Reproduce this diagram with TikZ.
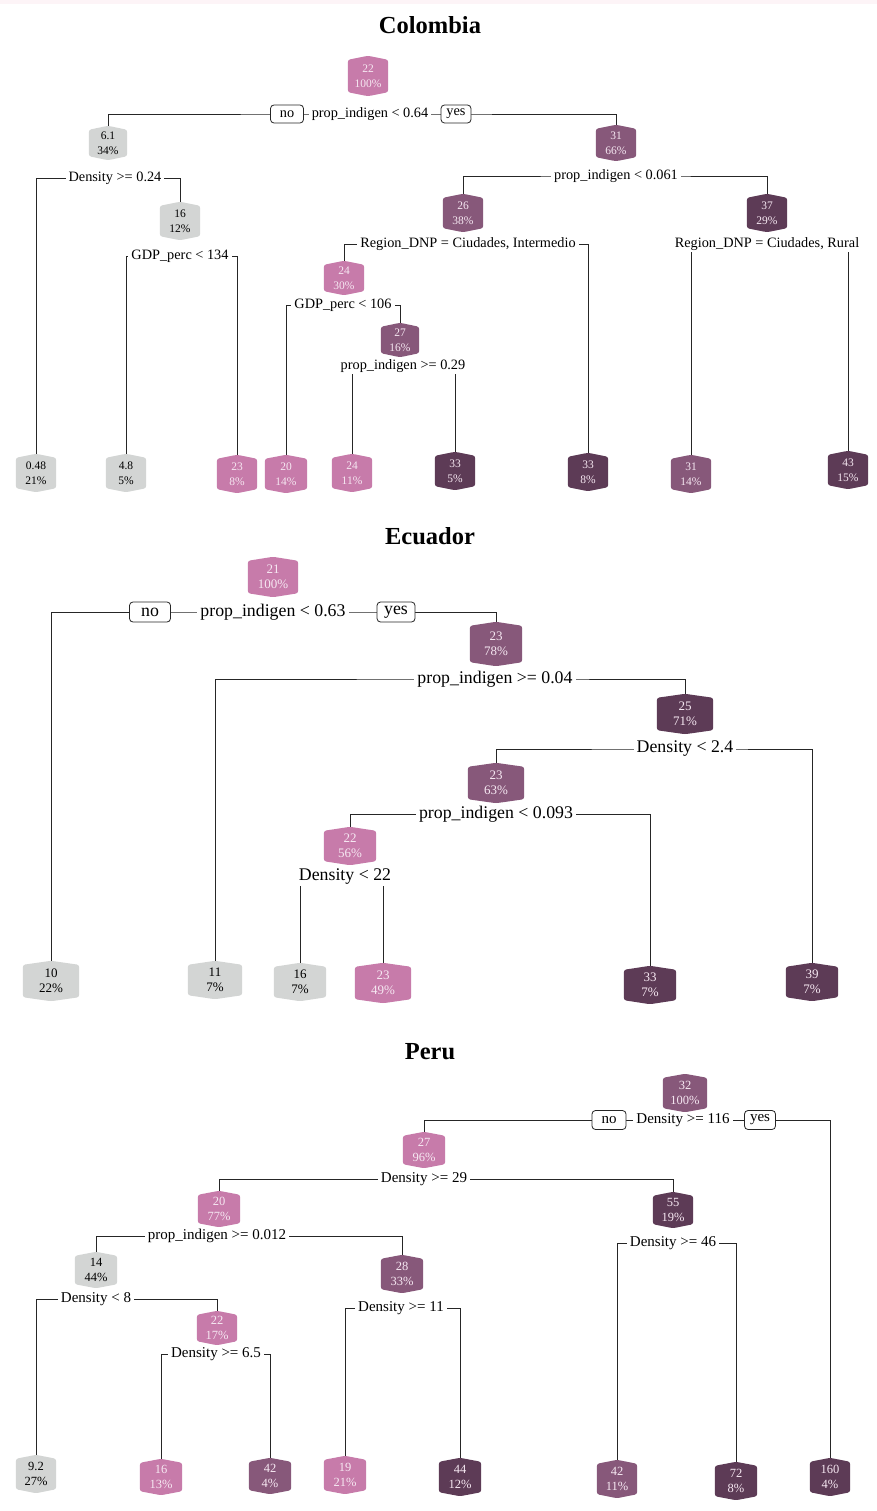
\documentclass[tikz,border=0pt]{standalone}
\usepackage{fontspec}
\setmainfont{Liberation Serif}
\usetikzlibrary{calc}
\pgfdeclarelayer{background}
\pgfsetlayers{background,main}
\definecolor{cGr}{RGB}{211,213,212}
\definecolor{cPk}{RGB}{199,123,170}
\definecolor{cMd}{RGB}{135,88,122}
\definecolor{cDk}{RGB}{93,59,86}
\definecolor{cLt}{RGB}{246,232,242}
\definecolor{cBand}{RGB}{253,244,247}
\newcommand\tn[7]{%
  \node[tn, text=#6, minimum width=#3pt, minimum height=#4pt] (#1) at (#2) {#7};
  \begin{pgfonlayer}{background}
    \fill[#5, rounded corners=2.5pt] ($(#1.north west)+(0,-4pt)$) -- (#1.north) -- ($(#1.north east)+(0,-4pt)$) -- ($(#1.south east)+(0,4pt)$) -- (#1.south) -- ($(#1.south west)+(0,4pt)$) -- cycle;
  \end{pgfonlayer}}
\newcommand\conn[3]{%
  \begin{pgfonlayer}{background}
    \draw[connline] (#1.north) |- (#2) -| (#3.north);
  \end{pgfonlayer}}
\tikzset{
  tn/.style={inner sep=0pt, align=center, font=\fontsize{11.5}{15}\selectfont},
  lab/.style={fill=white, inner xsep=3pt, inner ysep=1pt, font=\fontsize{14.3}{16}\selectfont},
  nybox/.style={draw=black!85, fill=white, rounded corners=3.5pt, inner xsep=2pt, inner ysep=0pt,
    minimum height=18pt, line width=0.8pt, font=\fontsize{14.3}{16}\selectfont},
  nobox/.style={nybox, minimum width=33pt},
  yesbox/.style={nybox, minimum width=30pt},
  connline/.style={line width=0.75pt, draw=black!85},
  ttl/.style={font=\bfseries\fontsize{24.5}{28}\selectfont}
}
\begin{document}
\begin{tikzpicture}[x=1pt,y=-1pt]
\useasboundingbox (0,0) rectangle (877,1511);
\begin{pgfonlayer}{background}
\fill[white] (0,0) rectangle (877,1511);
\fill[cBand] (0,0) rectangle (877,4);
\end{pgfonlayer}

% ================= Colombia =================
\node[ttl] (tc) at (430,25) {Colombia};
\begin{scope}
\tn{c1}{368,76}{40}{40}{cPk}{cLt}{22\\100\%}
\tn{c2}{108,143}{38}{34}{cGr}{black}{6.1\\34\%}
\tn{c3}{616,143}{40}{36}{cMd}{cLt}{31\\66\%}
\tn{c5}{180,221}{40}{38}{cGr}{black}{16\\12\%}
\tn{c26}{463,213}{40}{38}{cMd}{cLt}{26\\38\%}
\tn{c37}{767,213}{40}{38}{cDk}{cLt}{37\\29\%}
\tn{c24}{344,278}{40}{34}{cPk}{cLt}{24\\30\%}
\tn{c27}{400,340}{38}{34}{cMd}{cLt}{27\\16\%}
\tn{cl1}{36,473}{40}{38}{cGr}{black}{0.48\\21\%}
\tn{cl2}{126,473}{40}{38}{cGr}{black}{4.8\\5\%}
\tn{cl3}{237,474}{40}{38}{cPk}{cLt}{23\\8\%}
\tn{cl4}{286,474}{42}{38}{cPk}{cLt}{20\\14\%}
\tn{cl5}{352,473}{40}{38}{cPk}{cLt}{24\\11\%}
\tn{cl6}{455,471}{40}{38}{cDk}{cLt}{33\\5\%}
\tn{cl7}{588,472}{40}{38}{cDk}{cLt}{33\\8\%}
\tn{cl8}{691,474}{40}{38}{cMd}{cLt}{31\\14\%}
\tn{cl9}{848,470}{40}{38}{cDk}{cLt}{43\\15\%}
\coordinate (ca) at (370,114);
\coordinate (cb) at (115,178);
\coordinate (cc) at (180,256);
\coordinate (cd) at (616,176);
\coordinate (ce) at (468,244);
\coordinate (cf) at (767,244);
\coordinate (cg) at (343,305);
\coordinate (ch) at (403,366);
\conn{c2}{ca}{c3}
\conn{cl1}{cb}{c5}
\conn{cl2}{cc}{cl3}
\conn{c26}{cd}{c37}
\conn{c24}{ce}{cl7}
\conn{cl8}{cf}{cl9}
\conn{cl4}{cg}{c27}
\conn{cl5}{ch}{cl6}
\node[lab] (cal) at (ca) {prop\_indigen < 0.64};
\node[nobox] (cno) at (287,114) {no};
\node[yesbox] (cyes) at (456,114) {yes};
\node[lab] (cbl) at (cb) {Density >= 0.24};
\node[lab] (ccl) at (cc) {GDP\_perc < 134};
\node[lab] (cdl) at (cd) {prop\_indigen < 0.061};
\node[lab] (cel) at (ce) {Region\_DNP = Ciudades, Intermedio};
\node[lab] (cfl) at (cf) {Region\_DNP = Ciudades, Rural};
\node[lab] (cgl) at (cg) {GDP\_perc < 106};
\node[lab] (chl) at (ch) {prop\_indigen >= 0.29};
\end{scope}

% ================= Ecuador =================
\node[ttl] (te) at (430,536) {Ecuador};
\begin{scope}[tn/.append style={font=\fontsize{13}{15.5}\selectfont},
  lab/.append style={font=\fontsize{17.8}{20}\selectfont},
  nybox/.append style={font=\fontsize{17.8}{20}\selectfont, minimum height=20pt},
  nobox/.append style={minimum width=41pt},
  yesbox/.append style={minimum width=38pt}]
\tn{e1}{273,577}{50}{40}{cPk}{cLt}{21\\100\%}
\tn{e2}{496,644}{52}{44}{cMd}{cLt}{23\\78\%}
\tn{e3}{685,714}{56}{40}{cDk}{cLt}{25\\71\%}
\tn{e4}{496,783}{56}{40}{cMd}{cLt}{23\\63\%}
\tn{e5}{350,846}{52}{38}{cPk}{cLt}{22\\56\%}
\tn{el1}{51,981}{56}{40}{cGr}{black}{10\\22\%}
\tn{el2}{215,980}{54}{38}{cGr}{black}{11\\7\%}
\tn{el3}{300,982}{52}{38}{cGr}{black}{16\\7\%}
\tn{el4}{383,983}{56}{40}{cPk}{cLt}{23\\49\%}
\tn{el5}{650,985}{52}{38}{cDk}{cLt}{33\\7\%}
\tn{el6}{812,982}{52}{38}{cDk}{cLt}{39\\7\%}
\coordinate (ea) at (273,612);
\coordinate (eb) at (495,679);
\coordinate (ec) at (685,749);
\coordinate (ed) at (496,814);
\coordinate (ee) at (345,877);
\conn{el1}{ea}{e2}
\conn{el2}{eb}{e3}
\conn{e4}{ec}{el6}
\conn{e5}{ed}{el5}
\conn{el3}{ee}{el4}
\node[lab] (eal) at (ea) {prop\_indigen < 0.63};
\node[nobox] (eno) at (150,612) {no};
\node[yesbox] (eyes) at (396,612) {yes};
\node[lab] (ebl) at (eb) {prop\_indigen >= 0.04};
\node[lab] (ecl) at (ec) {Density < 2.4};
\node[lab] (edl) at (ed) {prop\_indigen < 0.093};
\node[lab] (eel) at (ee) {Density < 22};
\end{scope}

% ================= Peru =================
\node[ttl] (tp) at (430,1052) {Peru};
\begin{scope}[tn/.append style={font=\fontsize{12.5}{15}\selectfont},
  lab/.append style={font=\fontsize{15}{17}\selectfont},
  nybox/.append style={font=\fontsize{15}{17}\selectfont, minimum height=19pt},
  nobox/.append style={minimum width=34pt},
  yesbox/.append style={minimum width=31pt}]
\tn{p1}{685,1093}{44}{38}{cMd}{cLt}{32\\100\%}
\tn{p2}{424,1150}{42}{36}{cPk}{cLt}{27\\96\%}
\tn{p3}{219,1209}{42}{36}{cPk}{cLt}{20\\77\%}
\tn{p4}{96,1270}{42}{36}{cGr}{black}{14\\44\%}
\tn{p5}{402,1274}{42}{38}{cMd}{cLt}{28\\33\%}
\tn{p6}{673,1210}{40}{36}{cDk}{cLt}{55\\19\%}
\tn{p7}{217,1328}{40}{34}{cPk}{cLt}{22\\17\%}
\tn{pl1}{36,1474}{40}{38}{cGr}{black}{9.2\\27\%}
\tn{pl2}{161,1477}{42}{36}{cPk}{cLt}{16\\13\%}
\tn{pl3}{270,1476}{42}{36}{cMd}{cLt}{42\\4\%}
\tn{pl4}{345,1475}{42}{38}{cPk}{cLt}{19\\21\%}
\tn{pl5}{460,1477}{42}{38}{cDk}{cLt}{44\\12\%}
\tn{pl6}{617,1479}{40}{38}{cMd}{cLt}{42\\11\%}
\tn{pl7}{736,1481}{42}{38}{cDk}{cLt}{72\\8\%}
\tn{pl8}{830,1477}{40}{38}{cDk}{cLt}{160\\4\%}
\coordinate (pa) at (683,1120);
\coordinate (pb) at (424,1179);
\coordinate (pc) at (217,1236);
\coordinate (pd) at (96,1299);
\coordinate (pe) at (216,1354);
\coordinate (pf) at (401,1308);
\coordinate (pg) at (673,1243);
\conn{p2}{pa}{pl8}
\conn{p3}{pb}{p6}
\conn{p4}{pc}{p5}
\conn{pl1}{pd}{p7}
\conn{pl2}{pe}{pl3}
\conn{pl4}{pf}{pl5}
\conn{pl6}{pg}{pl7}
\node[lab] (pal) at (pa) {Density >= 116};
\node[nobox] (pno) at (609,1120) {no};
\node[yesbox] (pyes) at (760,1120) {yes};
\node[lab] (pbl) at (pb) {Density >= 29};
\node[lab] (pcl) at (pc) {prop\_indigen >= 0.012};
\node[lab] (pdl) at (pd) {Density < 8};
\node[lab] (pel) at (pe) {Density >= 6.5};
\node[lab] (pfl) at (pf) {Density >= 11};
\node[lab] (pgl) at (pg) {Density >= 46};
\end{scope}
\end{tikzpicture}
\end{document}
